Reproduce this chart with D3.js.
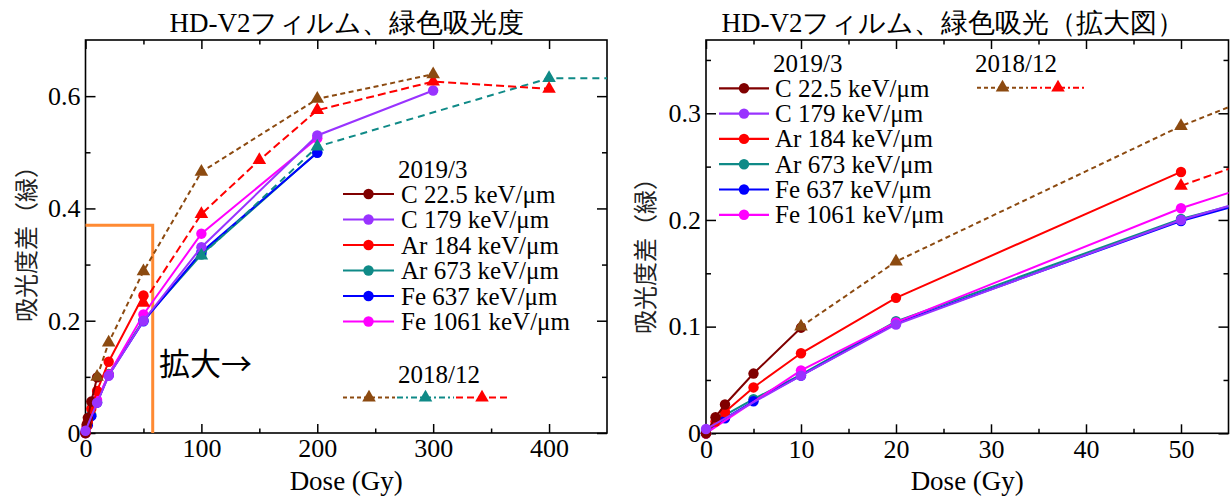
<!DOCTYPE html>
<html>
<head>
<meta charset="utf-8">
<script src="https://cdn.jsdelivr.net/npm/d3@7"></script>
<style>
body { margin: 0; background: #fff; }
svg { display: block; }
</style>
</head>
<body>
<svg id="chart" width="1231" height="497"></svg>
<script>
// DATA -- dose in Gy, absorbance difference (green)
var names2019 = ["C 22.5 keV/\u03bcm", "C 179 keV/\u03bcm", "Ar 184 keV/\u03bcm",
                 "Ar 673 keV/\u03bcm", "Fe 637 keV/\u03bcm", "Fe 1061 keV/\u03bcm"];

var doseC22 = [0, 1, 2, 5, 10];
var absC22  = [0, 0.015, 0.027, 0.056, 0.099];
var doseC179 = [0, 10, 20, 50, 100, 200, 300];
var absC179  = [0.004, 0.054, 0.102, 0.2, 0.331, 0.53, 0.61];
var doseAr184 = [0, 1, 2, 5, 10, 20, 50];
var absAr184  = [0, 0.011, 0.02, 0.043, 0.075, 0.127, 0.245];
var doseAr673 = [0, 2, 5, 10, 20, 50, 100, 200];
var absAr673  = [0, 0.017, 0.032, 0.055, 0.105, 0.201, 0.318, 0.5];
var doseFe637 = [0, 2, 5, 10, 20, 50, 100, 200];
var absFe637  = [0, 0.014, 0.03, 0.054, 0.103, 0.199, 0.322, 0.499];
var doseFe1061 = [0, 10, 20, 50, 100, 200];
var absFe1061  = [0, 0.059, 0.104, 0.211, 0.355, 0.525];

// 2018/12 runs (dashed + triangles)
var doseOldC = [10, 20, 50, 100, 200, 300];
var absOldC  = [0.1, 0.161, 0.288, 0.465, 0.595, 0.639];
var doseOldAr673 = [100, 200, 400, 500];
var absOldAr673  = [0.316, 0.51, 0.632, 0.632];
var doseOldAr184 = [50, 100, 150, 200, 300, 400];
var absOldAr184  = [0.232, 0.39, 0.486, 0.575, 0.626, 0.613];

// zoom window marked on the left panel
var zoomDose = 58, zoomAbs = 0.37;

// ticks
var xTicksL = [0, 100, 200, 300, 400], xMinorL = [50, 150, 250, 350];
var yTicksL = [0, 0.2, 0.4, 0.6],      yMinorL = [0.1, 0.3, 0.5];
var xTicksR = [0, 10, 20, 30, 40, 50], xMinorR = [5, 15, 25, 35, 45];
var yTicksR = [0, 0.1, 0.2, 0.3],      yMinorR = [0.05, 0.15, 0.25, 0.35];

// STYLES
var colors2019 = ["#800000", "#9933ff", "#ff0000", "#0f8a87", "#0000ff", "#ff00ff"];
var brown = "#8c4a10", teal = "#0f8a87", red = "#ff0000";
var serif = "Liberation Serif";
var cjk = "Noto Sans CJK JP";

var solid2019 = [
	{dose: doseC22, abs: absC22},
	{dose: doseC179, abs: absC179},
	{dose: doseAr184, abs: absAr184},
	{dose: doseAr673, abs: absAr673},
	{dose: doseFe637, abs: absFe637},
	{dose: doseFe1061, abs: absFe1061}
];
var drawOrder = [3, 4, 5, 2, 0, 1];

var old2018 = [
	{dose: doseOldAr673, abs: absOldAr673, color: teal, dash: "7,5"},
	{dose: doseOldAr184, abs: absOldAr184, color: red, dash: "8,4"},
	{dose: doseOldC, abs: absOldC, color: brown, dash: "5,3.5"}
];

var svg = d3.select("#chart");

function pts(s) {
	return s.dose.map(function(d, i) { return [d, s.abs[i]]; });
}

function panel(cfg) {
	var x = d3.scaleLinear().domain(cfg.xDomain).range([cfg.left, cfg.right]);
	var y = d3.scaleLinear().domain(cfg.yDomain).range([cfg.bottom, cfg.top]);
	var g = svg.append("g");

	g.append("clipPath").attr("id", cfg.id)
		.append("rect")
		.attr("x", cfg.left).attr("y", cfg.top)
		.attr("width", cfg.right - cfg.left).attr("height", cfg.bottom - cfg.top);

	var fmtY = function(d) { return d === 0 ? "0" : d3.format(".1f")(d); };

	// axes, ticks pointing inward on all four sides
	function ax(axis, tr, labels) {
		var a = g.append("g").attr("transform", tr).call(axis);
		a.attr("font-family", null).attr("font-size", null);
		a.select(".domain").remove();
		a.selectAll("line").attr("stroke", "#000").attr("stroke-width", 1.5);
		a.selectAll("text").style("font-family", serif).style("font-size", "26px").attr("fill", "#000");
		if (!labels) a.selectAll("text").remove();
		return a;
	}
	ax(d3.axisBottom(x).tickValues(cfg.xTicks).tickSize(-9).tickPadding(6).tickFormat(d3.format("d")), "translate(0," + cfg.bottom + ")", true);
	ax(d3.axisBottom(x).tickValues(cfg.xMinor).tickSize(-4.5), "translate(0," + cfg.bottom + ")", false);
	ax(d3.axisTop(x).tickValues(cfg.xTicks).tickSize(-9), "translate(0," + cfg.top + ")", false);
	ax(d3.axisTop(x).tickValues(cfg.xMinor).tickSize(-4.5), "translate(0," + cfg.top + ")", false);
	ax(d3.axisLeft(y).tickValues(cfg.yTicks).tickSize(-10).tickPadding(5).tickFormat(fmtY), "translate(" + cfg.left + ",0)", true);
	ax(d3.axisLeft(y).tickValues(cfg.yMinor).tickSize(-5), "translate(" + cfg.left + ",0)", false);
	ax(d3.axisRight(y).tickValues(cfg.yTicks).tickSize(-10), "translate(" + cfg.right + ",0)", false);
	ax(d3.axisRight(y).tickValues(cfg.yMinor).tickSize(-5), "translate(" + cfg.right + ",0)", false);

	g.append("rect")
		.attr("x", cfg.left).attr("y", cfg.top)
		.attr("width", cfg.right - cfg.left).attr("height", cfg.bottom - cfg.top)
		.attr("fill", "none").attr("stroke", "#000").attr("stroke-width", 1.6);

	var line = d3.line().x(function(d) { return x(d[0]); }).y(function(d) { return y(d[1]); });
	var inside = function(d) { return d[0] <= cfg.xDomain[1] && d[1] <= cfg.yDomain[1]; };

	if (cfg.zoomBox) {
		g.append("path")
			.attr("d", line([[0, zoomAbs], [zoomDose, zoomAbs], [zoomDose, 0]]))
			.attr("fill", "none").attr("stroke", "#ff8a33").attr("stroke-width", 3);
	}

	// 2019/3 solid series
	drawOrder.forEach(function(k) {
		var p = pts(solid2019[k]);
		g.append("path").attr("d", line(p)).attr("clip-path", "url(#" + cfg.id + ")")
			.attr("fill", "none").attr("stroke", colors2019[k]).attr("stroke-width", 2);
		g.selectAll(null).data(p.filter(inside)).enter().append("circle")
			.attr("cx", function(d) { return x(d[0]); })
			.attr("cy", function(d) { return y(d[1]); })
			.attr("r", 5.2).attr("fill", colors2019[k]);
	});

	// 2018/12 dashed series
	old2018.forEach(function(s) {
		if (cfg.skipOld && cfg.skipOld.indexOf(s.color) >= 0) return;
		var p = pts(s);
		g.append("path").attr("d", line(p)).attr("clip-path", "url(#" + cfg.id + ")")
			.attr("fill", "none").attr("stroke", s.color).attr("stroke-width", 2)
			.attr("stroke-dasharray", s.dash);
		g.selectAll(null).data(p.filter(inside)).enter().append("path")
			.attr("d", d3.symbol(d3.symbolTriangle, 80))
			.attr("transform", function(d) { return "translate(" + x(d[0]) + "," + y(d[1]) + ")"; })
			.attr("fill", s.color);
	});

	// titles
	g.append("text").attr("x", cfg.titleX).attr("y", 32).attr("text-anchor", "middle")
		.style("font-family", serif).style("font-size", "27px").attr("fill", "#000")
		.text(cfg.title);
	g.append("text").attr("x", (cfg.left + cfg.right) / 2).attr("y", 490).attr("text-anchor", "middle")
		.style("font-family", serif).style("font-size", "27px").attr("fill", "#000")
		.text("Dose (Gy)");
	g.append("text")
		.attr("transform", "translate(" + cfg.yTitleX + "," + cfg.yTitleY + ") rotate(-90)")
		.attr("text-anchor", "middle").attr("dominant-baseline", "central")
		.style("font-family", cjk).style("font-size", "24px").attr("fill", "#222")
		.text("吸光度差（緑）");

	return g;
}

function legend(g, lg) {
	var tx = function(t, xx, yy) {
		return g.append("text").attr("x", xx).attr("y", yy)
			.style("font-family", serif).style("font-size", "25px").attr("fill", "#000").text(t);
	};
	tx("2019/3", lg.headX, lg.headY);
	names2019.forEach(function(n, i) {
		var yy = lg.rowY + i * lg.step;
		g.append("line").attr("x1", lg.lineX0).attr("x2", lg.lineX1).attr("y1", yy).attr("y2", yy)
			.attr("stroke", colors2019[i]).attr("stroke-width", 2.2);
		g.append("circle").attr("cx", (lg.lineX0 + lg.lineX1) / 2).attr("cy", yy).attr("r", 5.2)
			.attr("fill", colors2019[i]);
		tx(n, lg.textX, yy + 8.5);
	});
	tx("2018/12", lg.oldHeadX, lg.oldHeadY);
	lg.oldItems.forEach(function(it) {
		g.append("line").attr("x1", it[0]).attr("x2", it[1]).attr("y1", lg.oldY).attr("y2", lg.oldY)
			.attr("stroke", it[2]).attr("stroke-width", 2).attr("stroke-dasharray", it[3]);
		g.append("path").attr("d", d3.symbol(d3.symbolTriangle, 80))
			.attr("transform", "translate(" + (it[0] + it[1]) / 2 + "," + lg.oldY + ")")
			.attr("fill", it[2]);
	});
}

// left panel: full range
var gl = panel({
	id: "clipL", left: 85.5, right: 607, top: 40, bottom: 433,
	xDomain: [0, 450], yDomain: [0, 0.7],
	xTicks: xTicksL, xMinor: xMinorL, yTicks: yTicksL, yMinor: yMinorL,
	title: "HD-V2フィルム、緑色吸光度", titleX: 347,
	yTitleX: 24, yTitleY: 238, zoomBox: true
});
gl.append("text").attr("x", 159).attr("y", 375)
	.style("font-family", cjk).style("font-size", "31px").attr("fill", "#000")
	.text("拡大→");
legend(gl, {
	headX: 398, headY: 178, rowY: 194, step: 25.5, lineX0: 343, lineX1: 394, textX: 401,
	oldHeadX: 398, oldHeadY: 383, oldY: 397.5,
	oldItems: [[343, 395, brown, "4,3"], [397, 454, teal, "6,3,2,3"], [456, 508, red, "7,4"]]
});

// right panel: zoomed
var gr = panel({
	id: "clipR", left: 706, right: 1228.5, top: 40, bottom: 433.3,
	xDomain: [0, 55], yDomain: [0, 0.3687],
	xTicks: xTicksR, xMinor: xMinorR, yTicks: yTicksR, yMinor: yMinorR,
	title: "HD-V2フィルム、緑色吸光（拡大図）", titleX: 953,
	yTitleX: 643, yTitleY: 250, skipOld: [teal]
});
legend(gr, {
	headX: 773, headY: 72, rowY: 88.3, step: 25.3, lineX0: 719, lineX1: 769, textX: 775,
	oldHeadX: 975, oldHeadY: 72, oldY: 87.7,
	oldItems: [[977, 1028, brown, "4,3"], [1031, 1085, red, "6,3,2,3"]]
});
</script>
</body>
</html>
